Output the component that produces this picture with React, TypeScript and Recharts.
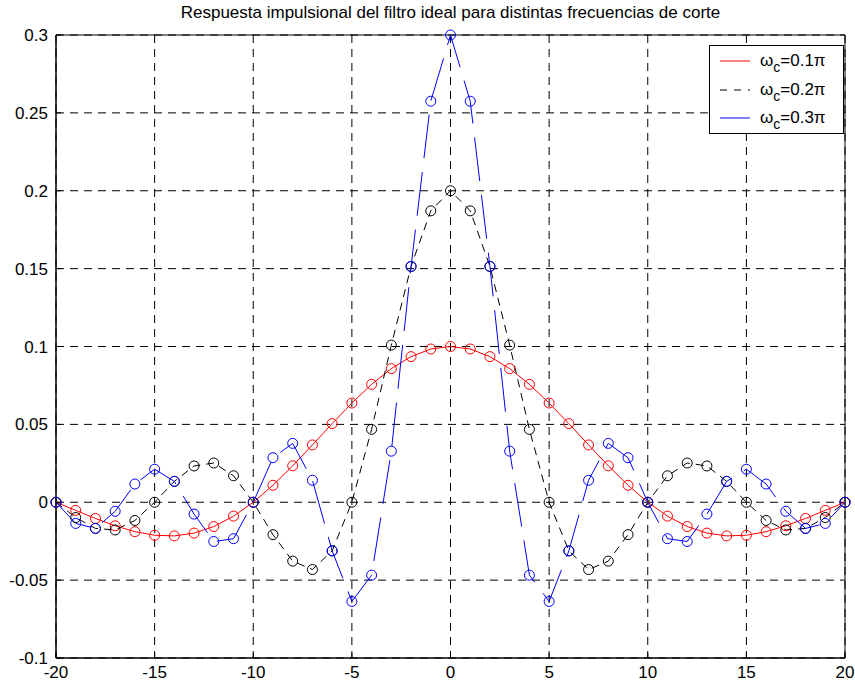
import { LineChart, Line, XAxis, YAxis, CartesianGrid, ReferenceArea } from 'recharts';

const nValues = [
    -20, -19, -18, -17, -16, -15, -14, -13, -12, -11, -10, -9, -8, -7, -6, -5, -4, -3, -2, -1,
    0, 1, 2, 3, 4, 5, 6, 7, 8, 9, 10, 11, 12, 13, 14, 15, 16, 17, 18, 19, 20,
];

// wc = 0.1*pi
const h01 = [
    0, -0.0052, -0.0104, -0.0151, -0.0189, -0.0212, -0.0216, -0.0198, -0.0156, -0.0089,
    0, 0.0109, 0.0234, 0.0368, 0.0505, 0.0637, 0.0757, 0.0858, 0.0935, 0.0984,
    0.1,
    0.0984, 0.0935, 0.0858, 0.0757, 0.0637, 0.0505, 0.0368, 0.0234, 0.0109, 0,
    -0.0089, -0.0156, -0.0198, -0.0216, -0.0212, -0.0189, -0.0151, -0.0104, -0.0052, 0,
];

// wc = 0.2*pi
const h02 = [
    0, -0.0098, -0.0168, -0.0178, -0.0117, 0, 0.0134, 0.0233, 0.0252, 0.017,
    0, -0.0208, -0.0378, -0.0432, -0.0312, 0, 0.0468, 0.1009, 0.1514, 0.1871,
    0.2,
    0.1871, 0.1514, 0.1009, 0.0468, 0, -0.0312, -0.0432, -0.0378, -0.0208, 0,
    0.017, 0.0252, 0.0233, 0.0134, 0, -0.0117, -0.0178, -0.0168, -0.0098, 0,
];

// wc = 0.3*pi
const h03 = [
    0, -0.0136, -0.0168, -0.0058, 0.0117, 0.0212, 0.0134, -0.0076, -0.0252, -0.0234,
    0, 0.0286, 0.0378, 0.0141, -0.0312, -0.0637, -0.0468, 0.0328, 0.1514, 0.2575,
    0.3,
    0.2575, 0.1514, 0.0328, -0.0468, -0.0637, -0.0312, 0.0141, 0.0378, 0.0286, 0,
    -0.0234, -0.0252, -0.0076, 0.0134, 0.0212, 0.0117, -0.0058, -0.0168, -0.0136, 0,
];

const xTicks = [-20, -15, -10, -5, 0, 5, 10, 15, 20];
const yTicks = [-0.1, -0.05, 0, 0.05, 0.1, 0.15, 0.2, 0.25, 0.3];

const series = [
    { key: 'h01', label: '0.1', color: '#ff0000', dash: undefined, legendDash: undefined },
    { key: 'h02', label: '0.2', color: '#000000', dash: '8 6', legendDash: '7 7' },
    { key: 'h03', label: '0.3', color: '#0000ff', dash: '44 14', legendDash: undefined },
];

const data = nValues.map((n, i) => ({ n, h01: h01[i], h02: h02[i], h03: h03[i] }));

const FONT = '"Liberation Sans", Arial, Helvetica, sans-serif';
const tickStyle = { fill: '#000', fontSize: 17, fontFamily: FONT };

function circleDot(color: string) {
    return (props: any) => {
        const { cx, cy, index } = props;
        if (cx == null || cy == null) return <g key={index} />;
        return <circle key={index} cx={cx} cy={cy} r={5} fill="none" stroke={color} strokeWidth={1} />;
    };
}

function FilterLegend() {
    return (
        <div
            style={{
                position: 'absolute',
                left: 709,
                top: 45,
                width: 135,
                height: 89,
                border: '1px solid #000',
                background: '#fff',
                fontFamily: FONT,
                fontSize: 17,
                boxSizing: 'border-box',
                paddingTop: 1,
            }}
        >
            {series.map((s) => (
                <div key={s.key} style={{ display: 'flex', alignItems: 'center', height: 28.5 }}>
                    <svg width={50} height={10} style={{ flex: 'none' }}>
                        <line x1={10} y1={5} x2={40} y2={5} stroke={s.color} strokeWidth={1} strokeDasharray={s.legendDash} />
                    </svg>
                    <span style={{ lineHeight: '20px' }}>
                        ω<sub style={{ fontSize: 14, verticalAlign: -6, lineHeight: 0 }}>c</sub>={s.label}π
                    </span>
                </div>
            ))}
        </div>
    );
}

export default function App() {
    return (
        <div style={{ position: 'absolute', left: 0, top: 0, width: 855, height: 683, background: '#fff' }}>
            <div
                style={{
                    position: 'absolute',
                    top: 3,
                    left: 56,
                    width: 789,
                    textAlign: 'center',
                    fontFamily: FONT,
                    fontSize: 17,
                }}
            >
                Respuesta impulsional del filtro ideal para distintas frecuencias de corte
            </div>
            <LineChart width={855} height={683} data={data} margin={{ top: 35, right: 10, left: 0, bottom: 0 }}>
                <CartesianGrid stroke="#000" strokeDasharray="8 6" />
                {/* inward ticks: negative tickSize, margin pushes labels back outside */}
                <XAxis
                    dataKey="n"
                    type="number"
                    domain={[-20, 20]}
                    ticks={xTicks}
                    height={25}
                    tickSize={-5}
                    tickMargin={13}
                    tickLine={{ stroke: '#000' }}
                    axisLine={{ stroke: '#000' }}
                    tick={tickStyle}
                />
                <XAxis
                    xAxisId="top"
                    orientation="top"
                    type="number"
                    domain={[-20, 20]}
                    ticks={xTicks}
                    height={0}
                    tickSize={-5}
                    tickLine={{ stroke: '#000' }}
                    axisLine={false}
                    tick={false}
                />
                <YAxis
                    type="number"
                    domain={[-0.1, 0.3]}
                    ticks={yTicks}
                    width={56}
                    tickSize={-5}
                    tickMargin={13}
                    tickLine={{ stroke: '#000' }}
                    axisLine={{ stroke: '#000' }}
                    tick={tickStyle}
                />
                <YAxis
                    yAxisId="right"
                    orientation="right"
                    type="number"
                    domain={[-0.1, 0.3]}
                    ticks={yTicks}
                    width={0}
                    tickSize={-5}
                    tickLine={{ stroke: '#000' }}
                    axisLine={false}
                    tick={false}
                />
                <ReferenceArea x1={-20} x2={20} y1={-0.1} y2={0.3} fill="none" stroke="#000" strokeWidth={1} />
                {series.map((s) => (
                    <Line
                        key={s.key}
                        type="linear"
                        dataKey={s.key}
                        stroke={s.color}
                        strokeWidth={1}
                        strokeDasharray={s.dash}
                        dot={circleDot(s.color)}
                        activeDot={false}
                        isAnimationActive={false}
                    />
                ))}
            </LineChart>
            <FilterLegend />
        </div>
    );
}
